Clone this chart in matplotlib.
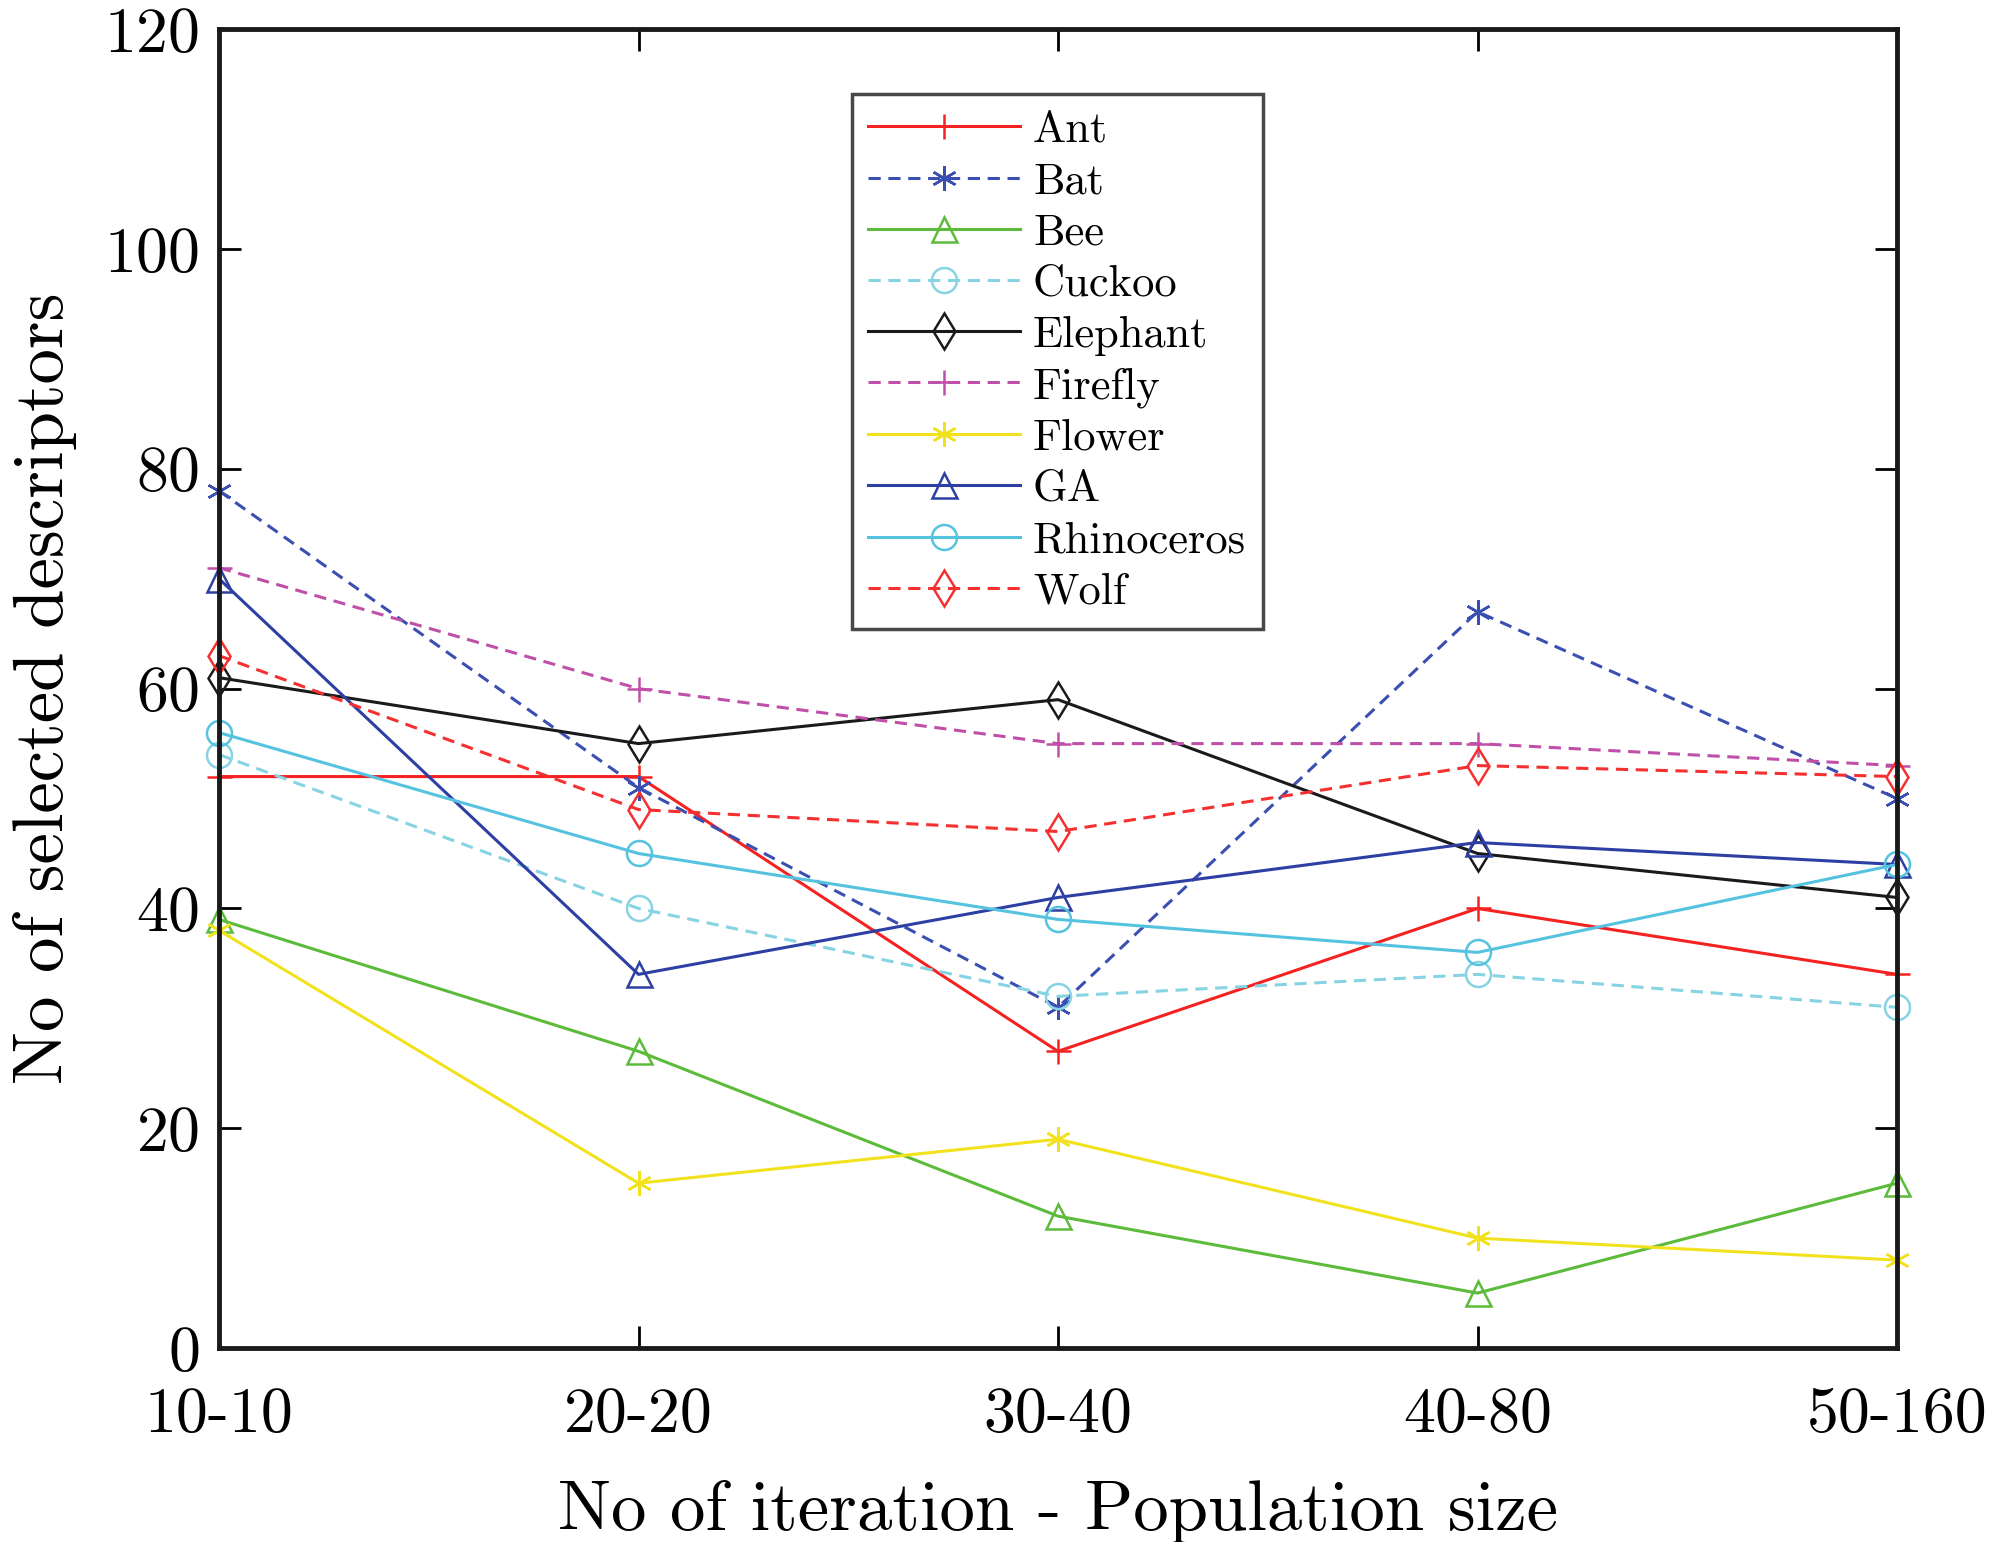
import numpy as np
from matplotlib import pyplot as plt

plt.rcParams['font.family'] = ['cmr10', 'DejaVu Serif']
plt.rcParams['axes.formatter.use_mathtext'] = True
plt.rcParams['mathtext.fontset'] = 'cm'

categories = ["10-10", "20-20", "30-40", "40-80", "50-160"]

ant = [52, 52, 27, 40, 34]
bat = [78, 51, 31, 67, 50]
bee = [39, 27, 12, 5, 15]
cuckoo = [54, 40, 32, 34, 31]
elephant = [61, 55, 59, 45, 41]
firefly = [71, 60, 55, 55, 53]
flower = [38, 15, 19, 10, 8]
ga = [70, 34, 41, 46, 44]
rhinoceros = [56, 45, 39, 36, 44]
wolf = [63, 49, 47, 53, 52]

asterisk = (6, 2, 0)
dash = (0, (4, 2.5))

series = [
    ("Ant", ant, "#f52222", "-", "+"),
    ("Bat", bat, "#3b4fb2", dash, asterisk),
    ("Bee", bee, "#5dbb3c", "-", "^"),
    ("Cuckoo", cuckoo, "#86d3e3", dash, "o"),
    ("Elephant", elephant, "#1a1a1a", "-", "d"),
    ("Firefly", firefly, "#bf4fa8", dash, "+"),
    ("Flower", flower, "#f2e21e", "-", asterisk),
    ("GA", ga, "#2d3fa3", "-", "^"),
    ("Rhinoceros", rhinoceros, "#55c3df", "-", "o"),
    ("Wolf", wolf, "#f53030", dash, "d"),
]

fig = plt.figure(figsize=(20, 15.42), dpi=100)
ax = fig.add_axes([0.1095, 0.1258, 0.839, 0.8552])

x = np.arange(len(categories))
for name, vals, color, ls, mk in series:
    ax.plot(x, vals, color=color, linestyle=ls, linewidth=2.2, marker=mk,
            markersize=18, markerfacecolor='none', markeredgecolor=color,
            markeredgewidth=1.8, label=name, clip_on=False)

ax.set_xlim(0, len(categories) - 1)
ax.set_ylim(0, 120)
ax.set_xticks(x)
ax.set_xticklabels(categories)
ax.set_yticks(np.arange(0, 121, 20))
ax.tick_params(direction='in', length=16, width=2.0, labelsize=46,
               top=True, right=True, pad=14)
ax.tick_params(axis='x', pad=28)
for sp in ax.spines.values():
    sp.set_linewidth(3.5)
    sp.set_color('#1a1a1a')

ax.set_xlabel("No of iteration - Population size", fontsize=51, labelpad=25)
ax.set_ylabel("No of selected descriptors", fontsize=51, labelpad=20)

leg = ax.legend(loc='upper left', bbox_to_anchor=(0.377, 0.951), fontsize=32,
                frameon=True, fancybox=False, edgecolor='#1a1a1a',
                handlelength=3.4, labelspacing=0.25, borderpad=0.38,
                handletextpad=0.3, borderaxespad=0)
leg.get_frame().set_linewidth(2.5)

plt.savefig("out.png", dpi=100)
